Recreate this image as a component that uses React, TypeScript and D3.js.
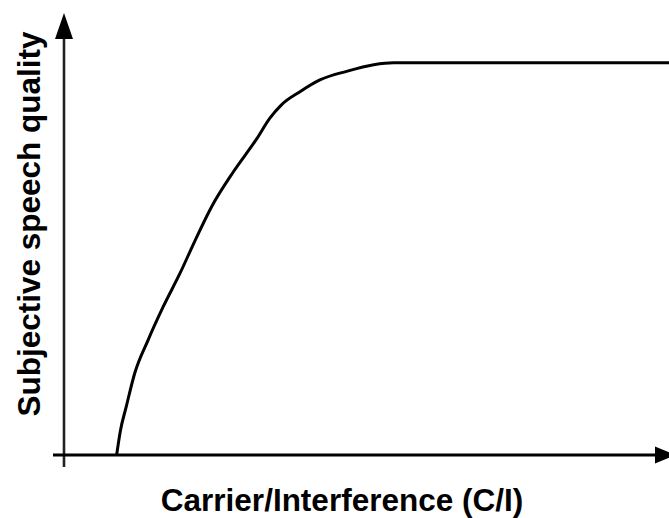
import React, { useEffect, useRef } from "react";
import * as d3 from "d3";

// C/I (arbitrary units, 0..100) vs subjective quality (0..100)
const carrierInterference = [8.7, 9.3, 10.3, 11.7, 13.9, 16.4, 19.2, 21.7, 24.4, 28.0, 31.9, 34.0, 35.9, 39.0, 42.3, 46.7, 51.2, 54.5, 100];
const speechQuality = [0, 6.0, 12.4, 20.9, 29.3, 37.8, 46.4, 54.8, 63.3, 72.2, 80.7, 85.8, 89.2, 92.6, 95.6, 97.8, 99.5, 100, 100];

const xLabel = "Carrier/Interference (C/I)";
const yLabel = "Subjective speech quality";

const width = 669;
const height = 518;

export default function App() {
  const svgRef = useRef<SVGSVGElement | null>(null);

  useEffect(() => {
    const svg = d3.select(svgRef.current);
    svg.selectAll("*").remove();

    const x = d3.scaleLinear().domain([0, 100]).range([64, 669]);
    const y = d3.scaleLinear().domain([0, 100]).range([455, 62.7]);

    // axes
    svg
      .append("line")
      .attr("x1", x(0))
      .attr("x2", x(0))
      .attr("y1", 467)
      .attr("y2", 36)
      .attr("stroke", "#222")
      .attr("stroke-width", 2.6);

    svg
      .append("line")
      .attr("x1", 53)
      .attr("x2", 658)
      .attr("y1", y(0))
      .attr("y2", y(0))
      .attr("stroke", "#000")
      .attr("stroke-width", 3);

    // arrow heads
    svg
      .append("path")
      .attr("d", `M${x(0)},13 L${x(0) - 9},39 L${x(0) + 9},39 Z`)
      .attr("fill", "#000");

    svg
      .append("path")
      .attr("d", `M655,${y(0) - 8.5} L676,${y(0)} L655,${y(0) + 8.5} Z`)
      .attr("fill", "#000");

    const points = carrierInterference.map((c, i) => [c, speechQuality[i]] as [number, number]);

    const line = d3
      .line<[number, number]>()
      .x((d) => x(d[0]))
      .y((d) => y(d[1]))
      .curve(d3.curveMonotoneX);

    svg
      .append("path")
      .datum(points)
      .attr("fill", "none")
      .attr("stroke", "#000")
      .attr("stroke-width", 3)
      .attr("d", line);

    svg
      .append("text")
      .attr("x", 342)
      .attr("y", 511)
      .attr("text-anchor", "middle")
      .style("font-family", "'Liberation Sans', Arial, sans-serif")
      .style("font-weight", "bold")
      .style("font-size", "31.5px")
      .text(xLabel);

    svg
      .append("text")
      .attr("transform", "translate(40,224) rotate(-90)")
      .attr("text-anchor", "middle")
      .style("font-family", "'Liberation Sans', Arial, sans-serif")
      .style("font-weight", "bold")
      .style("font-size", "31.5px")
      .text(yLabel);
  }, []);

  return (
    <div style={{ position: "absolute", left: 0, top: 0 }}>
      <svg ref={svgRef} width={width} height={height} style={{ background: "#fff", display: "block" }}></svg>
    </div>
  );
}
